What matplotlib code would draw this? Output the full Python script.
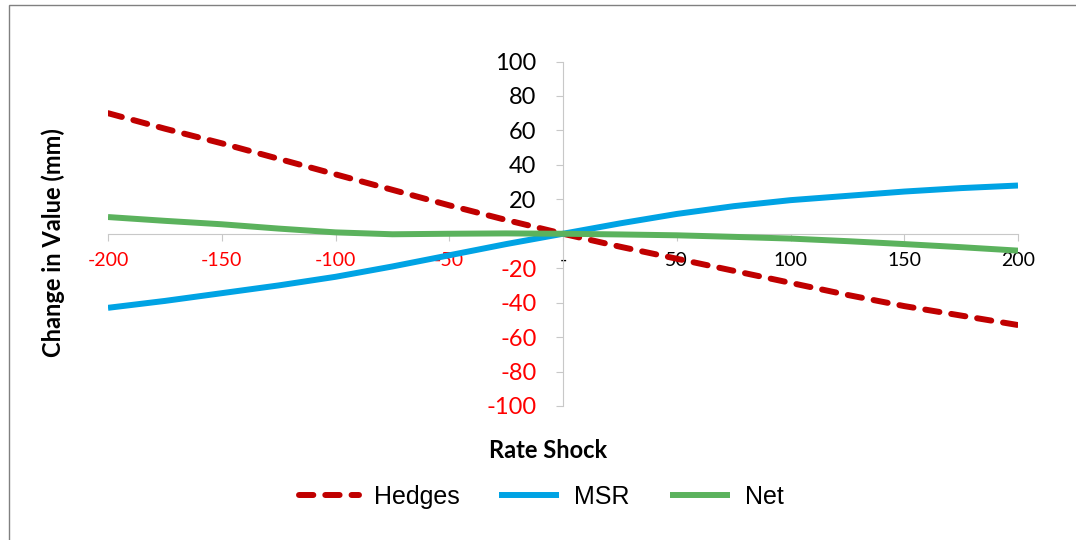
import matplotlib.pyplot as plt
from matplotlib.patches import Rectangle
import numpy as np

# rate shock scenarios (bp) and change in value (mm)
shock = [-200, -175, -150, -125, -100, -75, -50, -25, 0, 25, 50, 75, 100, 125, 150, 175, 200]
hedges = [70, 61, 52.5, 43.5, 34.5, 25.5, 16.5, 8, 0, -7.5, -14.5, -21.5, -28.5, -35.5, -42, -47.5, -53]
msr = [-43, -39, -34.5, -30, -25, -19, -12.5, -6, 0, 6, 11.5, 16, 19.5, 22, 24.5, 26.5, 28]
net = [9.7, 7.5, 5.5, 3, 0.8, -0.3, 0, 0.2, 0, -0.4, -0.9, -1.8, -2.8, -4.3, -6, -7.8, -9.8]

x_ticks = [-200, -150, -100, -50, 0, 50, 100, 150, 200]
y_ticks = [100, 80, 60, 40, 20, 0, -20, -40, -60, -80, -100]

red = '#C00000'
blue = '#00A3E4'
green = '#5BB25D'
neg_red = '#FF0000'
axis_gray = '#C8C8C8'

fig = plt.figure(figsize=(10.76, 5.4), dpi=100)
ax = fig.add_axes([108 / 1076, 1 - 406 / 540, 910 / 1076, 344.5 / 540])

ax.plot(shock, hedges, color=red, lw=4.3, dashes=(2.4, 2.0),
        dash_capstyle='round', label='Hedges', zorder=3)
ax.plot(shock, msr, color=blue, lw=4.3, solid_capstyle='butt', label='MSR', zorder=3)
ax.plot(shock, net, color=green, lw=4.3, solid_capstyle='butt', label='Net', zorder=3)

ax.set_xlim(-200, 200)
ax.set_ylim(-100, 100)

# axes cross at the origin
for side in ['top', 'right']:
    ax.spines[side].set_visible(False)
ax.spines['left'].set_position(('data', 0))
ax.spines['bottom'].set_position(('data', 0))
ax.spines['left'].set_color(axis_gray)
ax.spines['bottom'].set_color(axis_gray)

ax.set_xticks(x_ticks)
ax.set_xticklabels(['-' if v == 0 else str(v) for v in x_ticks])
ax.set_yticks(y_ticks)
ax.set_yticklabels(['-' if v == 0 else str(v) for v in y_ticks])

ax.tick_params(axis='x', direction='out', length=5, color=axis_gray, pad=8,
               labelsize=14)
ax.tick_params(axis='y', direction='out', length=5, color=axis_gray, pad=14,
               labelsize=17)

for lab, v in zip(ax.get_xticklabels(), x_ticks):
    lab.set_fontfamily('Lato')
    lab.set_color(neg_red if v < 0 else 'black')
for lab, v in zip(ax.get_yticklabels(), y_ticks):
    lab.set_fontfamily('Lato')
    lab.set_color(neg_red if v < 0 else 'black')

fig.text(53 / 1076, 1 - 243 / 540, 'Change in Value (mm)', rotation=90,
         ha='center', va='center', fontsize=17, fontweight='bold', family='Lato')
fig.text(548 / 1076, 1 - 451 / 540, 'Rate Shock', ha='center', va='center',
         fontsize=17, fontweight='bold', family='Lato')

leg = fig.legend(loc='center', bbox_to_anchor=(541 / 1076, 1 - 497 / 540), ncol=3,
                 frameon=False, handlelength=2.4, columnspacing=1.6, handletextpad=0.6,
                 prop={'family': 'Liberation Sans', 'size': 18})

# chart frame
fig.patches.append(Rectangle((9 / 1076, -0.1), 1.2, 1 - 5 / 540 + 0.1,
                             transform=fig.transFigure, fill=False,
                             edgecolor='#808080', lw=1))

fig.savefig('out.png', dpi=100)
